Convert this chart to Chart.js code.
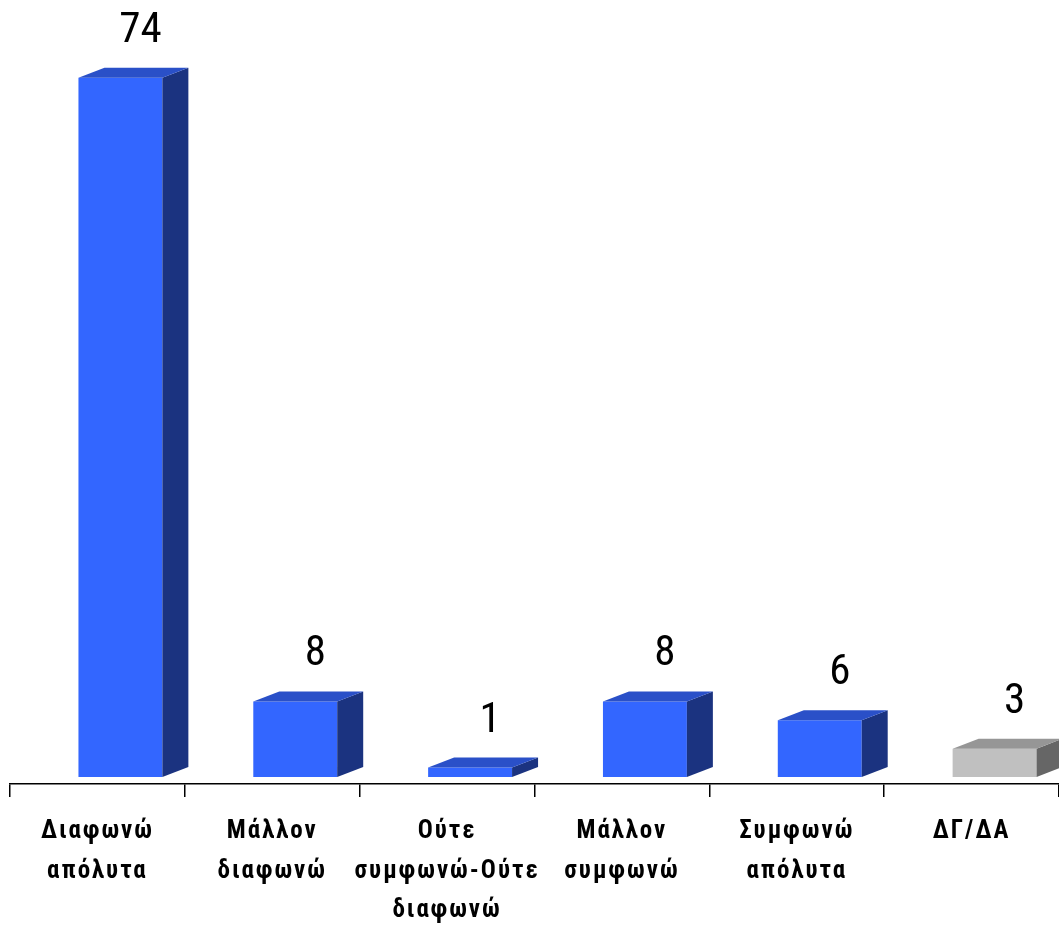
<!DOCTYPE html>
<html>
<head>
<meta charset="utf-8">
<script src="https://cdn.jsdelivr.net/npm/chart.js@4.4.0/dist/chart.umd.min.js"></script>
<style>
  html, body { margin: 0; padding: 0; background: #fff; }
  #wrap { width: 1059px; height: 926px; }
</style>
</head>
<body>
<div id="wrap"><canvas id="myChart" width="1059" height="926"></canvas></div>
<script>
var categories = [
  ['Διαφωνώ', 'απόλυτα'],
  ['Μάλλον', 'διαφωνώ'],
  ['Ούτε', 'συμφωνώ-Ούτε', 'διαφωνώ'],
  ['Μάλλον', 'συμφωνώ'],
  ['Συμφωνώ', 'απόλυτα'],
  ['ΔΓ/ΔΑ']
];
var values = [74, 8, 1, 8, 6, 3];

// front / top / side colours per bar
var frontColors = ['#3366ff', '#3366ff', '#3366ff', '#3366ff', '#3366ff', '#c0c0c0'];
var topColors   = ['#2a50c8', '#2a50c8', '#2a50c8', '#2a50c8', '#2a50c8', '#969696'];
var sideColors  = ['#1b3380', '#1b3380', '#1b3380', '#1b3380', '#1b3380', '#666666'];

var OFF_X = 23, OFF_Y = -7;   // shift of bars from category slot
var DX = 26, DY = 10;         // 3d depth

var bars3d = {
  id: 'bars3d',
  beforeDraw: function (chart) {
    chart.ctx.letterSpacing = '2px';
  },
  beforeDatasetsDraw: function (chart) {
    var ctx = chart.ctx;
    ctx.save();
    ctx.translate(OFF_X, OFF_Y);
  },
  afterDatasetsDraw: function (chart) {
    var ctx = chart.ctx;
    var meta = chart.getDatasetMeta(0);
    meta.data.forEach(function (bar, i) {
      var l = bar.x - bar.width / 2, r = bar.x + bar.width / 2;
      var t = bar.y, b = bar.base;
      // side
      ctx.fillStyle = sideColors[i];
      ctx.beginPath();
      ctx.moveTo(r, b);
      ctx.lineTo(r + DX, b - DY);
      ctx.lineTo(r + DX, t - DY);
      ctx.lineTo(r, t);
      ctx.closePath();
      ctx.fill();
      // top
      ctx.fillStyle = topColors[i];
      ctx.beginPath();
      ctx.moveTo(l, t);
      ctx.lineTo(l + DX, t - DY);
      ctx.lineTo(r + DX, t - DY);
      ctx.lineTo(r, t);
      ctx.closePath();
      ctx.fill();
      // value label
      ctx.letterSpacing = '0px';
      ctx.fillStyle = '#000';
      ctx.font = '43px "Roboto Condensed", sans-serif';
      ctx.textAlign = 'center';
      ctx.textBaseline = 'alphabetic';
      ctx.fillText(String(values[i]), bar.x + 20, t - 36);
    });
    ctx.restore();
    ctx.letterSpacing = '2px';
  }
};

new Chart(document.getElementById('myChart'), {
  type: 'bar',
  data: {
    labels: categories,
    datasets: [{
      data: values,
      backgroundColor: frontColors,
      borderWidth: 0,
      categoryPercentage: 1,
      barPercentage: 0.48,
      clip: false
    }]
  },
  options: {
    responsive: false,
    animation: false,
    layout: { padding: { left: 10, right: 0, top: 28, bottom: 0 } },
    plugins: { legend: { display: false }, tooltip: { enabled: false } },
    scales: {
      x: {
        offset: true,
        grid: { offset: true, drawOnChartArea: false, drawTicks: true, tickLength: 13, color: '#000', lineWidth: 1.5 },
        border: { display: true, color: '#000', width: 1.5 },
        ticks: {
          color: '#000',
          autoSkip: false,
          maxRotation: 0,
          minRotation: 0,
          padding: 15,
          font: { family: 'Roboto Condensed', size: 25, weight: 'bold', lineHeight: 1.58 }
        },
        afterFit: function (scale) { scale.height = 142; }
      },
      y: {
        display: false,
        min: 0,
        max: 80
      }
    }
  },
  plugins: [bars3d]
});
</script>
</body>
</html>
